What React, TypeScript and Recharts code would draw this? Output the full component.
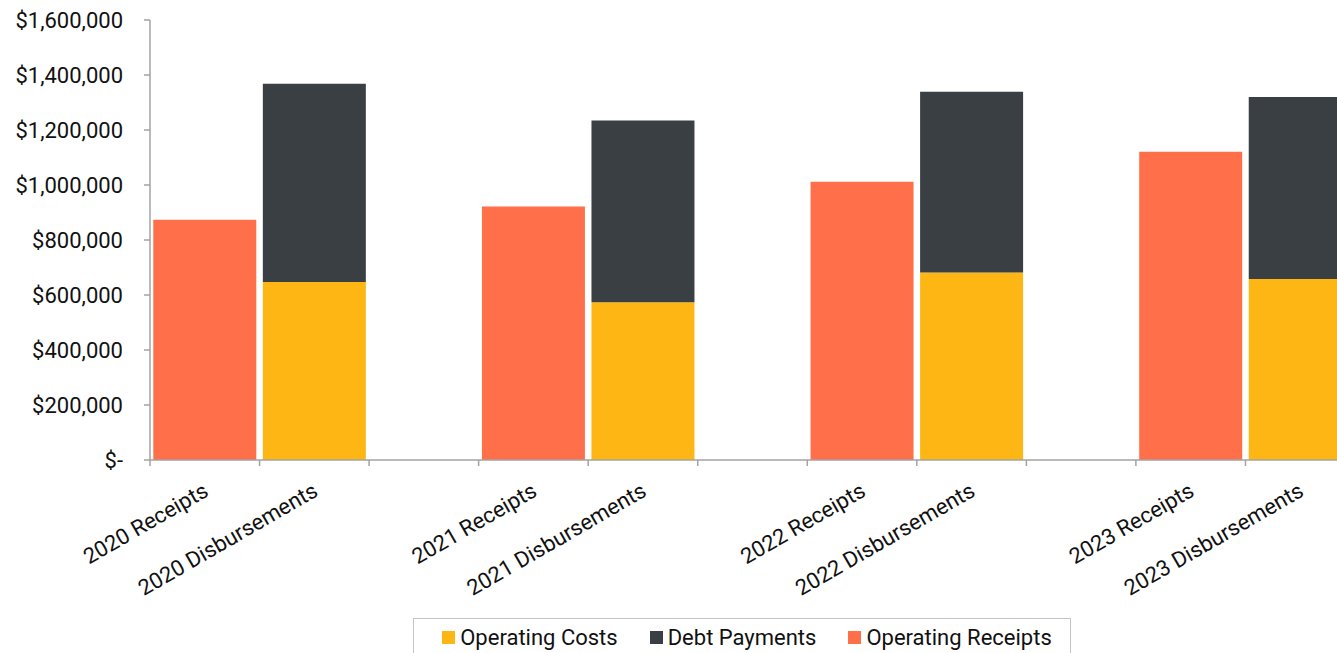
import React from 'react';
import { BarChart, Bar, XAxis, YAxis, Legend } from 'recharts';

const years = ['2020', '2021', '2022', '2023'];
const operatingReceipts = [874000, 922000, 1012000, 1121000];
const operatingCosts = [647000, 574000, 682000, 658000];
const debtPayments = [721000, 661000, 657000, 662000];
const yTicks = [0, 200000, 400000, 600000, 800000, 1000000, 1200000, 1400000, 1600000];
const legendOrder = ['Operating Costs', 'Debt Payments', 'Operating Receipts'];

const COLORS = {
  costs: '#FDB614',
  debt: '#3A3F44',
  receipts: '#FF704A',
};
const AXIS = '#a3a3a3';
const FONT = 'Roboto, "Noto Sans", sans-serif';

type Row = {
  key: string;
  label: string;
  receipts?: number;
  costs?: number;
  debt?: number;
};

const data: Row[] = [];
years.forEach((y, i) => {
  data.push({ key: `${y} Receipts`, label: `${y} Receipts`, receipts: operatingReceipts[i] });
  data.push({ key: `${y} Disbursements`, label: `${y} Disbursements`, costs: operatingCosts[i], debt: debtPayments[i] });
  if (i < years.length - 1) data.push({ key: `gap${i}`, label: '' });
});
const labelByKey: Record<string, string> = {};
data.forEach((d) => (labelByKey[d.key] = d.label));

const fmtY = (v: number) => (v === 0 ? '$-' : '$' + v.toLocaleString('en-US'));

const XTick = (props: any) => {
  const { x, y, payload } = props;
  const off = payload && typeof payload.offset === 'number' ? payload.offset : 0;
  const label = labelByKey[payload.value] || '';
  const ax = x + 5;
  const ay = y + 35;
  return (
    <g>
      <line x1={x - off} x2={x - off} y1={y} y2={y + 6} stroke={AXIS} strokeWidth={1.5} />
      {label ? (
        <text
          x={ax}
          y={ay}
          textAnchor="end"
          transform={`rotate(-30, ${ax}, ${ay})`}
          fontFamily={FONT}
          fontSize={22}
          fill="#111"
        >
          {label}
        </text>
      ) : null}
    </g>
  );
};

const LegendContent = (props: any) => {
  const payload = [...(props.payload || [])].sort(
    (a: any, b: any) => legendOrder.indexOf(a.value) - legendOrder.indexOf(b.value)
  );
  return (
    <div
      style={{
        boxSizing: 'border-box',
        width: 658,
        height: 60,
        border: '1.5px solid #c4c4c4',
        display: 'flex',
        justifyContent: 'center',
        alignItems: 'flex-start',
        paddingTop: 6,
        paddingLeft: 10,
        fontFamily: FONT,
        fontSize: 22,
        color: '#111',
        background: '#fff',
      }}
    >
      {payload.map((p: any, i: number) => (
        <div key={i} style={{ display: 'flex', alignItems: 'center', marginLeft: i === 0 ? 0 : 32 }}>
          <span style={{ display: 'inline-block', width: 13, height: 13, background: p.color, marginRight: 5 }} />
          <span>{p.value}</span>
        </div>
      ))}
    </div>
  );
};

export default function App() {
  return (
    <div style={{ position: 'fixed', left: 8, top: 8, width: 1329, height: 645, overflow: 'hidden', background: '#fff' }}>
      <BarChart
        width={1347}
        height={645}
        data={data}
        margin={{ top: 12, right: 0, bottom: 0, left: 0 }}
        barCategoryGap="3%"
      >
        <XAxis
          dataKey="key"
          interval={0}
          height={193}
          tickSize={0}
          tickMargin={0}
          tickLine={false}
          axisLine={{ stroke: AXIS, strokeWidth: 1.5 }}
          tick={<XTick />}
        />
        <YAxis
          width={142}
          domain={[0, 1600000]}
          ticks={yTicks}
          interval={0}
          tickFormatter={fmtY}
          tickSize={6}
          tickMargin={21}
          tickLine={{ stroke: AXIS, strokeWidth: 1.5 }}
          axisLine={{ stroke: AXIS, strokeWidth: 1.5 }}
          tick={{ fontFamily: FONT, fontSize: 22, fill: '#111' }}
        />
        <Legend
          layout="horizontal"
          verticalAlign="middle"
          align="center"
          itemSorter={null as any}
          wrapperStyle={{ position: 'absolute', left: 405, top: 610, width: 658 }}
          content={<LegendContent />}
        />
        <Bar dataKey="costs" name="Operating Costs" stackId="a" fill={COLORS.costs} isAnimationActive={false} />
        <Bar dataKey="debt" name="Debt Payments" stackId="a" fill={COLORS.debt} isAnimationActive={false} />
        <Bar dataKey="receipts" name="Operating Receipts" stackId="a" fill={COLORS.receipts} isAnimationActive={false} />
      </BarChart>
    </div>
  );
}
